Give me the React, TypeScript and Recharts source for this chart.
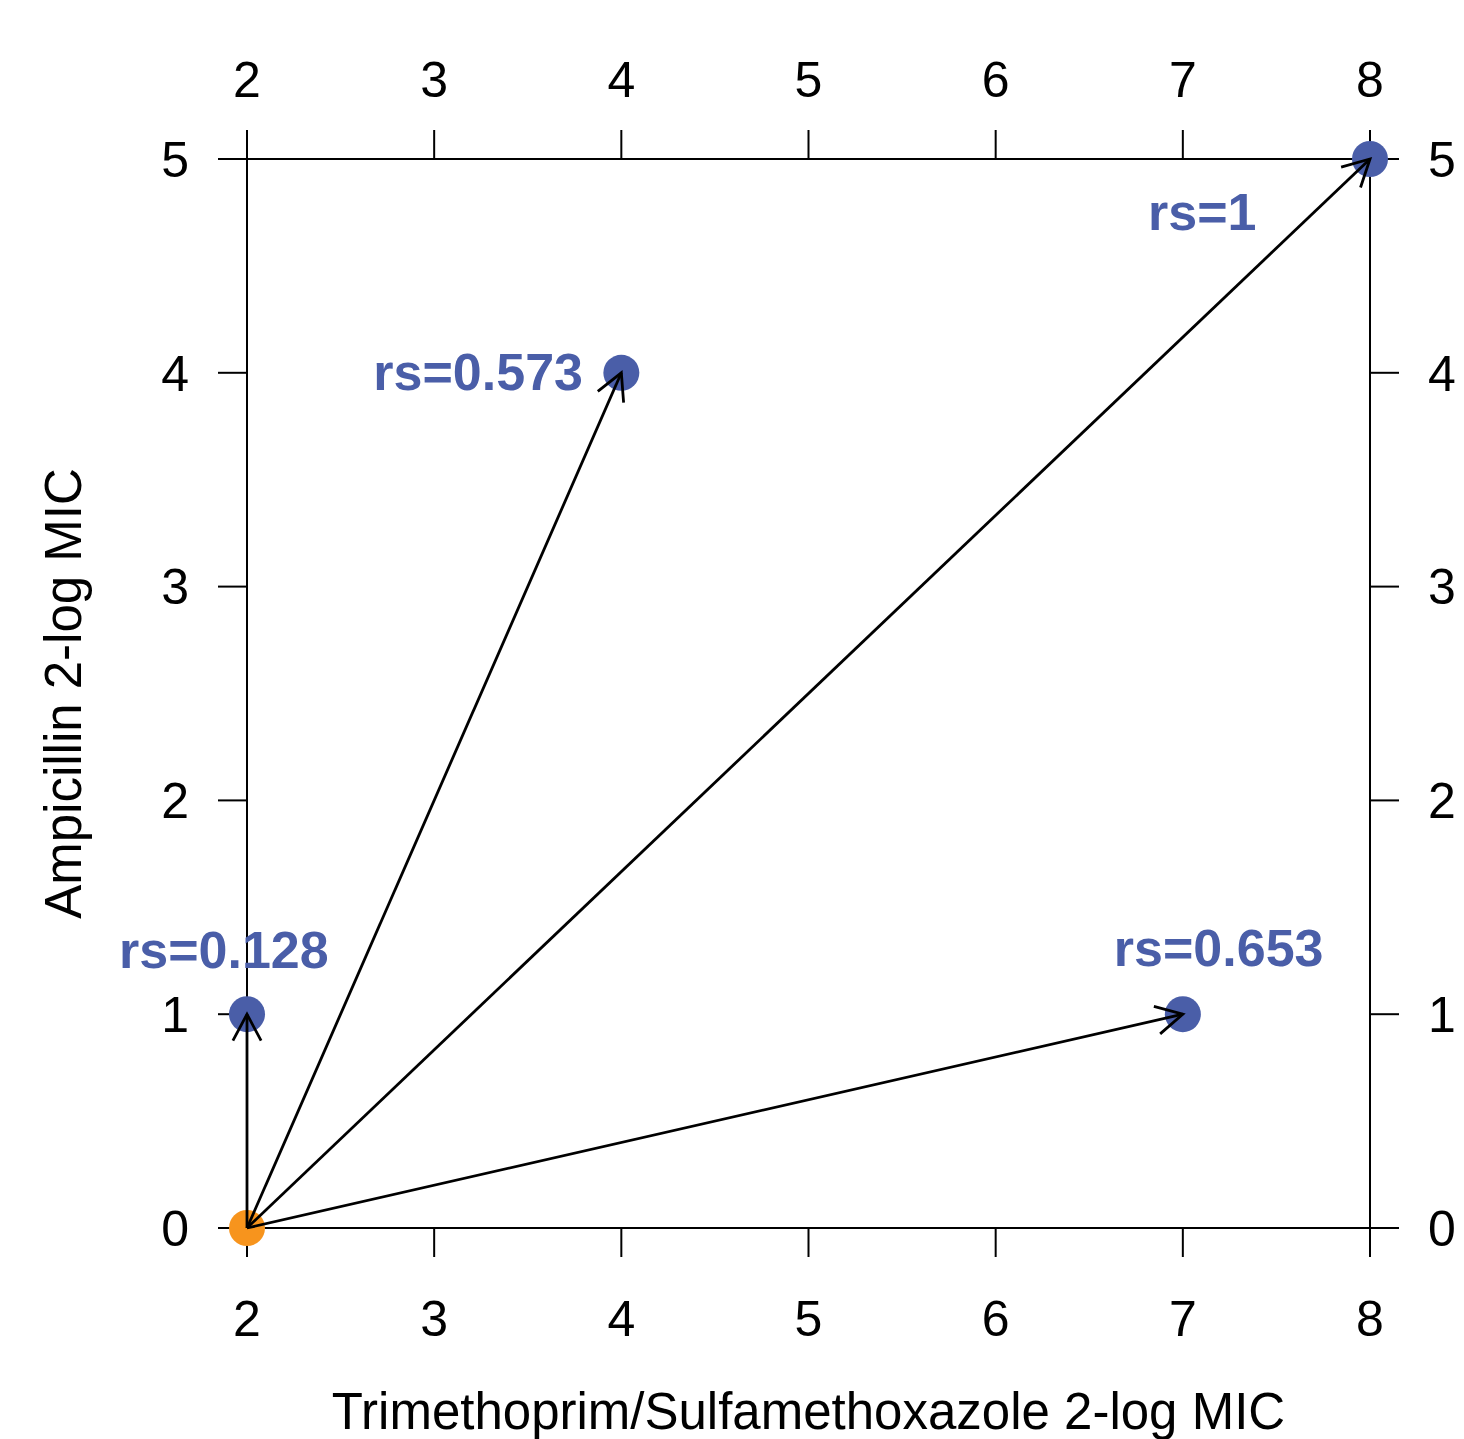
import React from 'react';
import { ComposedChart, Scatter, XAxis, YAxis, ReferenceLine } from 'recharts';

// Trimethoprim/Sulfamethoxazole vs Ampicillin, 2-log MIC
const originX = [2];
const originY = [0];
const targetX = [2, 4, 8, 7];
const targetY = [1, 4, 5, 1];
const rsLabels = ['rs=0.128', 'rs=0.573', 'rs=1', 'rs=0.653'];
const xTicks = [2, 3, 4, 5, 6, 7, 8];
const yTicks = [0, 1, 2, 3, 4, 5];

const BLUE = '#4A5EA8';
const ORANGE = '#F7941D';
const FONT = 'Liberation Sans, Arial, sans-serif';

// label placement relative to each point (pixels), style only
const LABEL_OFFSETS = [
  { dx: -128, dy: -46 },
  { dx: -248, dy: 17 },
  { dx: -222, dy: 71 },
  { dx: -69, dy: -48 },
];

const originData = originX.map((x, i) => ({ x, y: originY[i] }));
const targetData = targetX.map((x, i) => ({ x, y: targetY[i], label: rsLabels[i] }));

const tickStyle = { fontSize: 50, fill: '#000', fontFamily: FONT };
const titleStyle = { fontSize: 51, fill: '#000', fontFamily: FONT };

function OriginDot(props: any) {
  const { cx, cy } = props;
  return <circle cx={cx} cy={cy} r={18} fill={ORANGE} />;
}

function TargetDot(props: any) {
  const { cx, cy, index, payload } = props;
  const off = LABEL_OFFSETS[index] ?? { dx: 0, dy: 0 };
  return (
    <g>
      <circle cx={cx} cy={cy} r={18} fill={BLUE} />
      <text
        x={cx + off.dx}
        y={cy + off.dy}
        fill={BLUE}
        fontSize={52}
        fontWeight="bold"
        fontFamily={FONT}
        textAnchor="start"
      >
        {payload.label}
      </text>
    </g>
  );
}

function Arrow(props: any) {
  const { x1, y1, x2, y2 } = props;
  const ang = Math.atan2(y2 - y1, x2 - x1);
  const len = 30;
  const spread = (28 * Math.PI) / 180;
  const ax = x2 - len * Math.cos(ang - spread);
  const ay = y2 - len * Math.sin(ang - spread);
  const bx = x2 - len * Math.cos(ang + spread);
  const by = y2 - len * Math.sin(ang + spread);
  return (
    <g stroke="#000" strokeWidth={2.8} fill="none">
      <line x1={x1} y1={y1} x2={x2} y2={y2} />
      <polyline points={`${ax},${ay} ${x2},${y2} ${bx},${by}`} />
    </g>
  );
}

export default function App() {
  return (
    <div style={{ position: 'absolute', left: 0, top: 0, background: '#fff' }}>
      <ComposedChart width={1464} height={1439} margin={{ top: 0, right: 0, bottom: 0, left: 0 }}>
        <XAxis
          xAxisId="bottom"
          type="number"
          dataKey="x"
          orientation="bottom"
          domain={[2, 8]}
          ticks={xTicks}
          height={211}
          tickSize={29}
          tickMargin={43}
          stroke="#000"
          strokeWidth={2}
          tick={tickStyle}
          label={{
            value: 'Trimethoprim/Sulfamethoxazole 2-log MIC',
            position: 'insideBottom',
            offset: 10,
            style: titleStyle,
          }}
        />
        <XAxis
          xAxisId="top"
          type="number"
          dataKey="x"
          orientation="top"
          domain={[2, 8]}
          ticks={xTicks}
          height={159}
          tickSize={29}
          tickMargin={33}
          stroke="#000"
          strokeWidth={2}
          tick={tickStyle}
        />
        <YAxis
          yAxisId="left"
          type="number"
          dataKey="y"
          orientation="left"
          domain={[0, 5]}
          ticks={yTicks}
          width={247}
          tickSize={29}
          tickMargin={29}
          stroke="#000"
          strokeWidth={2}
          tick={tickStyle}
          label={{
            value: 'Ampicillin 2-log MIC',
            angle: -90,
            position: 'insideLeft',
            offset: 63,
            style: { ...titleStyle, textAnchor: 'middle' },
          }}
        />
        <YAxis
          yAxisId="right"
          type="number"
          dataKey="y"
          orientation="right"
          domain={[0, 5]}
          ticks={yTicks}
          width={94}
          tickSize={29}
          tickMargin={29}
          stroke="#000"
          strokeWidth={2}
          tick={tickStyle}
        />
        <Scatter
          xAxisId="bottom"
          yAxisId="left"
          data={targetData}
          shape={TargetDot}
          isAnimationActive={false}
        />
        <Scatter
          xAxisId="top"
          yAxisId="right"
          data={originData}
          shape={OriginDot}
          isAnimationActive={false}
        />
        {targetData.map((t, i) => (
          <ReferenceLine
            key={i}
            xAxisId="bottom"
            yAxisId="left"
            segment={[
              { x: originX[0], y: originY[0] },
              { x: t.x, y: t.y },
            ]}
            shape={Arrow}
            zIndex={700}
          />
        ))}
      </ComposedChart>
    </div>
  );
}
